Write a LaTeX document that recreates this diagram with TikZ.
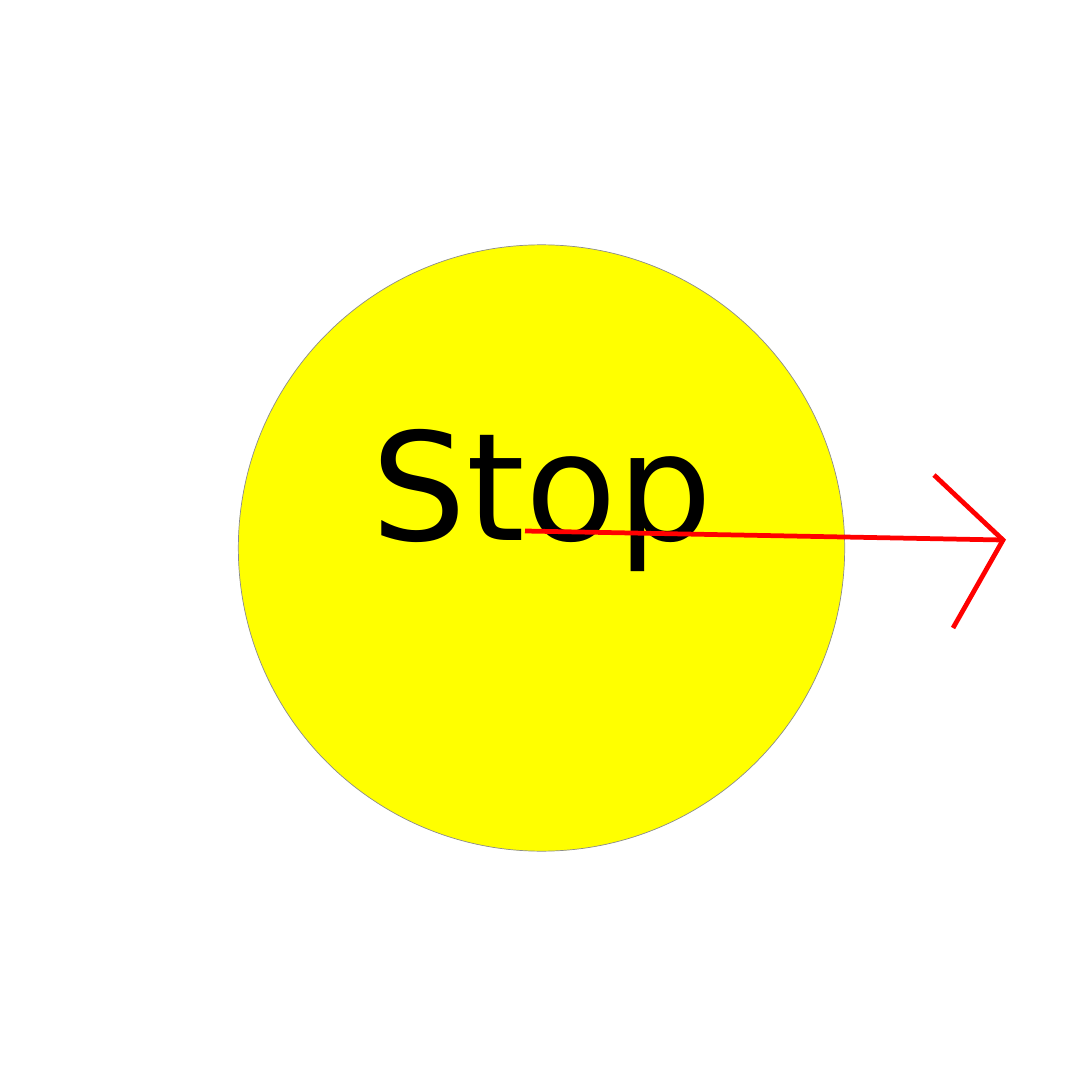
\documentclass[tikz,border=0pt]{standalone}
\usepackage{fontspec}
\newfontfamily\signfont{DejaVu Sans}
\definecolor{signyellow}{RGB}{255,255,0}
\definecolor{arrowred}{RGB}{255,0,0}
\begin{document}
\begin{tikzpicture}[x=0.01cm, y=-0.01cm]
  % Page frame (1080 x 1080)
  \useasboundingbox (0,0) rectangle (1080,1080);
  % Yellow disc
  \node[circle, fill=signyellow, draw=black!45, line width=0.2pt,
        minimum size=6.06cm, inner sep=0pt] (sign) at (541.5,548) {};
  % Word on the disc
  \node[anchor=base, inner sep=0pt, font=\signfont\fontsize{42.6}{43}\selectfont]
    (word) at (542,541) {Stop};
  % Red arrow
  \coordinate (tail) at (525,531);
  \coordinate (tip) at (1003,540);
  \coordinate (barbup) at (934,475);
  \coordinate (barbdown) at (953,628);
  \draw[arrowred, line width=1.35pt] (tail) -- (tip);
  \draw[arrowred, line width=1.35pt] (barbup) -- (tip) -- (barbdown);
\end{tikzpicture}
\end{document}
